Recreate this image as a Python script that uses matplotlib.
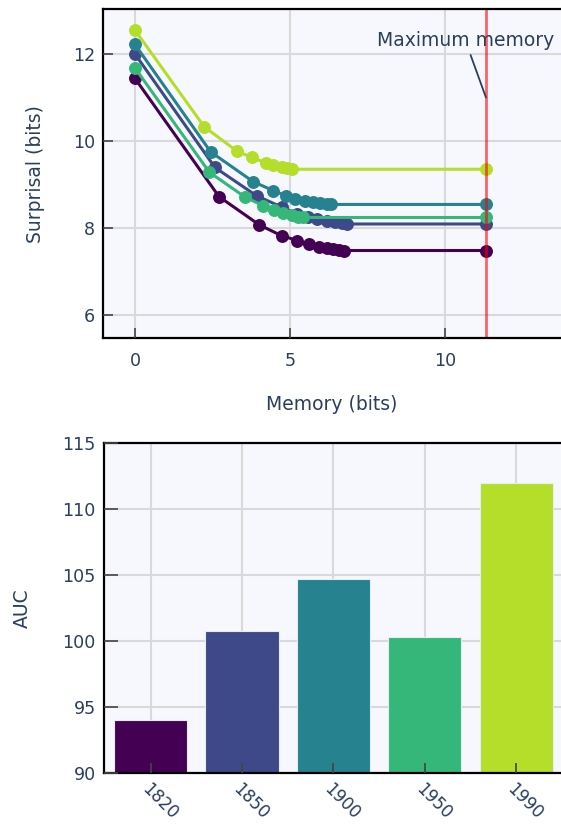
import numpy as np
import matplotlib
matplotlib.use("Agg")
import matplotlib.pyplot as plt

# decades and their colours (plotly viridis picks)
decades = ["1820", "1850", "1900", "1950", "1990"]
colors = ["#440154", "#3e4989", "#26828e", "#35b779", "#b5de2b"]

max_memory = 11.32

# memory / surprisal curves
mem_1820 = [0, 2.71, 4.01, 4.73, 5.24, 5.61, 5.95, 6.18, 6.40, 6.58, 6.74, 11.32]
sur_1820 = [11.44, 8.72, 8.07, 7.82, 7.71, 7.63, 7.57, 7.54, 7.52, 7.50, 7.48, 7.48]

mem_1850 = [0, 2.58, 3.92, 4.73, 5.22, 5.59, 5.86, 6.18, 6.45, 6.67, 6.85, 11.32]
sur_1850 = [12.0, 9.39, 8.74, 8.48, 8.32, 8.25, 8.20, 8.16, 8.13, 8.11, 8.09, 8.09]

mem_1900 = [0, 2.44, 3.82, 4.46, 4.87, 5.16, 5.48, 5.75, 5.97, 6.18, 6.32, 11.32]
sur_1900 = [12.22, 9.75, 9.06, 8.86, 8.74, 8.67, 8.62, 8.59, 8.57, 8.55, 8.54, 8.54]

mem_1950 = [0, 2.40, 3.55, 4.14, 4.48, 4.78, 5.05, 5.27, 5.43, 11.32]
sur_1950 = [11.68, 9.28, 8.71, 8.51, 8.41, 8.35, 8.30, 8.26, 8.24, 8.24]

mem_1990 = [0, 2.23, 3.28, 3.76, 4.22, 4.46, 4.73, 4.89, 5.05, 11.32]
sur_1990 = [12.55, 10.33, 9.77, 9.62, 9.50, 9.45, 9.41, 9.37, 9.35, 9.35]

auc = [94.0, 100.77, 104.7, 100.32, 111.96]

memories = [mem_1820, mem_1850, mem_1900, mem_1950, mem_1990]
surprisals = [sur_1820, sur_1850, sur_1900, sur_1950, sur_1990]

text_col = "#2a3f5f"
bg = "#f7f8fd"
grid_col = "#d9d9d9"

plt.rcParams["font.family"] = ["DejaVu Sans"]

fig = plt.figure(figsize=(5.61, 8.27), dpi=100)


def style_axes(ax):
    ax.set_facecolor(bg)
    ax.set_axisbelow(False)
    for side in ["top", "left", "bottom"]:
        ax.spines[side].set_color("black")
        ax.spines[side].set_linewidth(1.6)
    ax.spines["right"].set_visible(False)
    ax.tick_params(direction="in", length=7, width=1.2, color="#444444",
                   labelcolor=text_col, labelsize=12.6, pad=6)


def draw_grid(ax):
    # grid drawn by hand so the tick marks can stay on top of the bars
    for v in ax.get_xticks():
        ax.axvline(v, color=grid_col, linewidth=1.5, zorder=0.5)
    for v in ax.get_yticks():
        ax.axhline(v, color=grid_col, linewidth=1.5, zorder=0.5)


# top: memory vs surprisal
ax1 = fig.add_axes([0.1842, 0.5909, 0.8158, 0.3979])
style_axes(ax1)
for mem, sur, c in zip(memories, surprisals, colors):
    ax1.plot(mem, sur, color=c, linewidth=2.2, marker="o", markersize=8.3,
             zorder=2, clip_on=False)
ax1.axvline(max_memory, color="red", alpha=0.6, linewidth=2, zorder=2.2)
ax1.annotate("Maximum memory", xy=(max_memory, 11.0), xytext=(10.65, 12.32),
             ha="center", va="center", fontsize=13.5, color=text_col,
             arrowprops=dict(arrowstyle="-", color=text_col, lw=1.3,
                             shrinkA=2, shrinkB=0), zorder=5)
ax1.set_xlim(-1.02, 13.74)
ax1.set_ylim(5.46, 13.03)
ax1.set_xticks([0, 5, 10])
ax1.set_yticks([6, 8, 10, 12])
draw_grid(ax1)
ax1.tick_params(axis="x", pad=10)
ax1.set_xlabel("Memory (bits)", fontsize=13.5, color=text_col, labelpad=18)
ax1.set_ylabel("Surprisal (bits)", fontsize=13.5, color=text_col, labelpad=20)

# bottom: AUC per decade
ax2 = fig.add_axes([0.1854, 0.0657, 0.8146, 0.3983])
style_axes(ax2)
x = np.arange(len(decades))
ax2.bar(x, auc, width=0.8, color=colors, edgecolor="#e5ecf6", linewidth=0.8,
        zorder=2)
ax2.set_xlim(-0.51, 4.49)
ax2.set_ylim(90, 115)
ax2.set_yticks([90, 95, 100, 105, 110, 115])
ax2.set_xticks(x)
draw_grid(ax2)
ax2.set_xticklabels(decades, rotation=-45, ha="left", va="top",
                    rotation_mode="anchor", fontsize=12.2)
ax2.tick_params(axis="x", pad=5)
ax2.tick_params(axis="y", length=10)
ax2.set_ylabel("AUC", fontsize=13.5, color=text_col, labelpad=22)

fig.savefig("out.png", dpi=100, facecolor="white")
